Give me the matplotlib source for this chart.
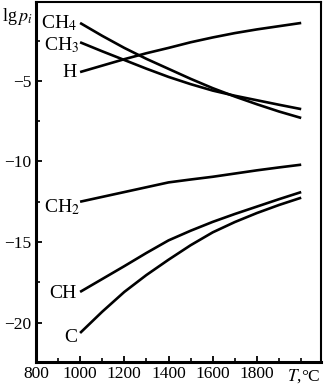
import matplotlib
matplotlib.use('Agg')
from matplotlib import pyplot as plt
from matplotlib.ticker import MultipleLocator

plt.rcParams['font.family'] = ['Liberation Serif', 'DejaVu Serif']
plt.rcParams['mathtext.fontset'] = 'stix'

T = [1000, 1100, 1200, 1300, 1400, 1500, 1600, 1700, 1800, 1900, 2000]
lg_H = [-4.45, -4.05, -3.65, -3.28, -2.95, -2.6, -2.3, -2.03, -1.8, -1.6, -1.4]
lg_CH4 = [-1.4, -2.2, -2.95, -3.63, -4.25, -4.87, -5.45, -5.97, -6.45, -6.9, -7.3]
lg_CH3 = [-2.6, -3.16, -3.7, -4.24, -4.75, -5.2, -5.6, -5.92, -6.2, -6.48, -6.75]
lg_CH2 = [-12.5, -12.2, -11.9, -11.6, -11.3, -11.12, -10.95, -10.75, -10.55, -10.37, -10.2]
lg_CH = [-18.1, -17.3, -16.5, -15.68, -14.9, -14.3, -13.75, -13.26, -12.8, -12.34, -11.9]
lg_C = [-20.65, -19.33, -18.1, -17.05, -16.1, -15.2, -14.4, -13.76, -13.2, -12.7, -12.25]

# label text, x of right edge, baseline y
labels = [
    (r'CH$_4$', 985, -1.71),
    (r'CH$_3$', 998, -3.07),
    ('H', 983, -4.75),
    (r'CH$_2$', 998, -13.14),
    ('CH', 983, -18.48),
    ('C', 987, -21.2),
]

xticks = [800, 1000, 1200, 1400, 1600, 1800]
yticks = [-5, -10, -15, -20]

fig = plt.figure(figsize=(3.26, 3.86), dpi=100)
ax = fig.add_axes([0.110, 0.0622, 0.875, 0.9326])

for s in [lg_H, lg_CH4, lg_CH3, lg_CH2, lg_CH, lg_C]:
    ax.plot(T, s, color='black', lw=1.9, solid_capstyle='butt')

for txt, x, y in labels:
    ax.text(x, y, txt, ha='right', va='baseline', fontsize=14)

ax.set_xlim(800, 2090)
ax.set_ylim(-22.45, -0.1)
ax.set_xticks(xticks)
ax.set_xticklabels([str(t) for t in xticks])
ax.xaxis.set_minor_locator(MultipleLocator(100))
ax.set_yticks(yticks)
ax.set_yticklabels(['\u2212' + str(-v) for v in yticks])
ax.yaxis.set_minor_locator(MultipleLocator(2.5))
ax.tick_params(direction='in', length=4, width=1.3, labelsize=12.5, pad=3)
ax.tick_params(which='minor', direction='in', length=3, width=1.2)
ax.spines['left'].set_linewidth(2.2)
ax.spines['bottom'].set_linewidth(2.2)
ax.spines['right'].set_linewidth(1.5)
ax.spines['top'].set_linewidth(1.5)

fig.text(0.007, 0.985, r'lg$\,p_i$', ha='left', va='top', fontsize=13)
fig.text(0.982, 0.026, r'$T$,°C', ha='right', va='center', fontsize=12.5)

fig.savefig('out.png', dpi=100)
